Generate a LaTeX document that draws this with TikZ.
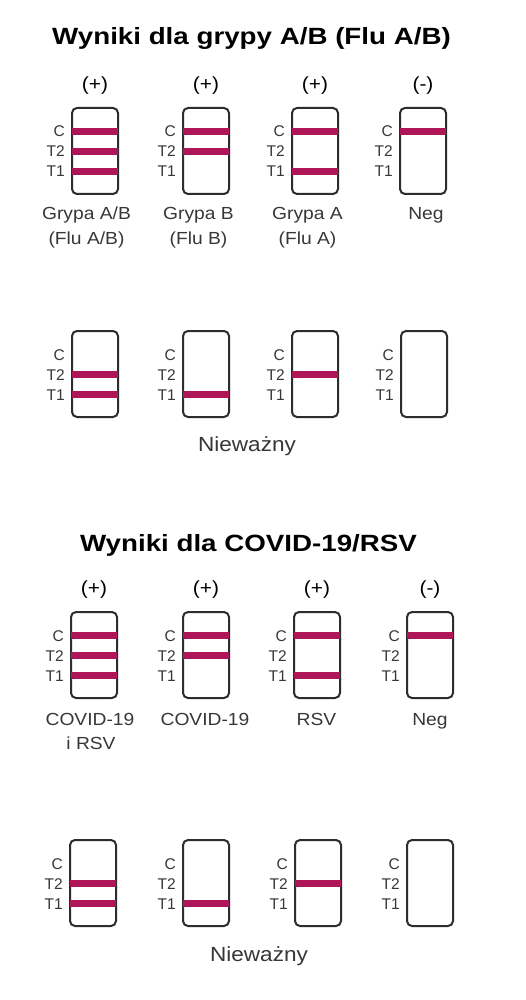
\documentclass[tikz,border=0pt]{standalone}
\usepackage{fontspec}
\setmainfont{Liberation Sans}
\newfontfamily\labfont[FakeStretch=1.1]{Liberation Sans}
\newfontfamily\ttlfont[FakeStretch=1.18]{Liberation Sans}
\definecolor{bandred}{RGB}{174,22,88}
\definecolor{boxgray}{RGB}{45,45,45}
\definecolor{txtgray}{RGB}{55,55,55}
\tikzset{
 stripbox/.style={draw=boxgray, line width=2pt, rounded corners=5pt, minimum width=46pt, minimum height=86pt, inner sep=0pt, anchor=north},
 band/.style={draw=bandred, line width=7pt},
 tlab/.style={font=\fontsize{15.5}{16}\selectfont, text=txtgray, anchor=base east, inner sep=0pt},
 sign/.style={font=\labfont\fontsize{19}{20}\selectfont, anchor=base, inner sep=0pt, text=black},
 res/.style={font=\labfont\fontsize{17.5}{20}\selectfont, anchor=base, inner sep=0pt, text=txtgray},
 ttl/.style={font=\ttlfont\bfseries\fontsize{23.5}{26}\selectfont, anchor=base, inner sep=0pt, text=black},
 inval/.style={font=\labfont\fontsize{20.5}{22}\selectfont, anchor=base, inner sep=0pt, text=txtgray}
}
% name, x, outer top, C, T2, T1
\newcommand\tstrip[6]{%
 \node[stripbox] (#1) at (#2,#3+1) {};
 \node[tlab] (#1c) at ([xshift=-6pt,yshift=-30pt]#1.north west) {C};
 \node[tlab] (#1t) at ([xshift=-6pt,yshift=-50pt]#1.north west) {T2};
 \node[tlab] (#1u) at ([xshift=-6pt,yshift=-70pt]#1.north west) {T1};
 \ifnum#4=1 \draw[band] ([xshift=1pt,yshift=-24.5pt]#1.north west) -- ([xshift=-1pt,yshift=-24.5pt]#1.north east);\fi
 \ifnum#5=1 \draw[band] ([xshift=1pt,yshift=-44.5pt]#1.north west) -- ([xshift=-1pt,yshift=-44.5pt]#1.north east);\fi
 \ifnum#6=1 \draw[band] ([xshift=1pt,yshift=-64.5pt]#1.north west) -- ([xshift=-1pt,yshift=-64.5pt]#1.north east);\fi
}
\begin{document}
\begin{tikzpicture}[x=1pt,y=-1pt]
\useasboundingbox[fill=white] (0,0) rectangle (525,1000);
% ---- Flu A/B
\node[ttl] (title1) at (251.5,45) {Wyniki dla grypy A/B (Flu A/B)};
\node[sign] (p11) at (95,91) {(+)};
\node[sign] (p12) at (206,91) {(+)};
\node[sign] (p13) at (315,91) {(+)};
\node[sign] (p14) at (423,91) {(-)};
\tstrip{a1}{95}{106}{1}{1}{1}
\tstrip{a2}{206}{106}{1}{1}{0}
\tstrip{a3}{315}{106}{1}{0}{1}
\tstrip{a4}{423}{106}{1}{0}{0}
\node[res] (ra1) at (86.5,219.5) {Grypa A/B};
\node[res] (rb1) at (86.5,244.5) {(Flu A/B)};
\node[res] (ra2) at (198.5,219.5) {Grypa B};
\node[res] (rb2) at (198.5,244.5) {(Flu B)};
\node[res] (ra3) at (307.5,219.5) {Grypa A};
\node[res] (rb3) at (307.5,244.5) {(Flu A)};
\node[res] (ra4) at (426,219.5) {Neg};
\tstrip{b1}{95}{329}{0}{1}{1}
\tstrip{b2}{206}{329}{0}{0}{1}
\tstrip{b3}{315}{329}{0}{1}{0}
\tstrip{b4}{424}{329}{0}{0}{0}
\node[inval] (inv1) at (247,451.5) {Nieważny};
% ---- COVID-19/RSV
\node[ttl] (title2) at (248.5,551) {Wyniki dla COVID-19/RSV};
\node[sign] (p31) at (94,594) {(+)};
\node[sign] (p32) at (206,594) {(+)};
\node[sign] (p33) at (317,594) {(+)};
\node[sign] (p34) at (430,594) {(-)};
\tstrip{c1}{94}{610}{1}{1}{1}
\tstrip{c2}{206}{610}{1}{1}{0}
\tstrip{c3}{317}{610}{1}{0}{1}
\tstrip{c4}{430}{610}{1}{0}{0}
\node[res] (rc1) at (90,725.5) {COVID-19};
\node[res] (rd1) at (91,749) {i RSV};
\node[res] (rc2) at (205,725.5) {COVID-19};
\node[res] (rc3) at (316.5,725.5) {RSV};
\node[res] (rc4) at (430,725.5) {Neg};
\tstrip{d1}{93}{838}{0}{1}{1}
\tstrip{d2}{206}{838}{0}{0}{1}
\tstrip{d3}{318}{838}{0}{1}{0}
\tstrip{d4}{430}{838}{0}{0}{0}
\node[inval] (inv2) at (259,961.5) {Nieważny};
\end{tikzpicture}
\end{document}
